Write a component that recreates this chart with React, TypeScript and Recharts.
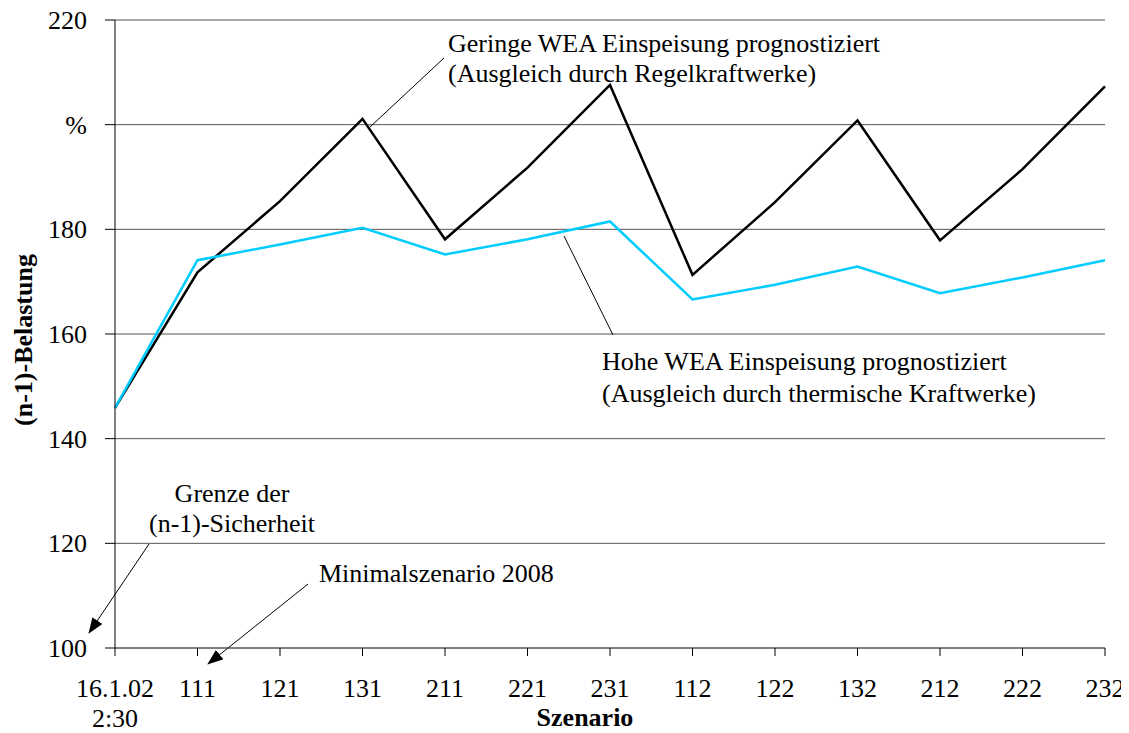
import { LineChart, Line, XAxis, YAxis, CartesianGrid, Customized } from 'recharts'

const scenarios = ['16.1.02\n2:30', '111', '121', '131', '211', '221', '231', '112', '122', '132', '212', '222', '232']
const geringe = [145.9, 171.8, 185.4, 201.1, 178.1, 191.8, 207.6, 171.3, 185.2, 200.8, 177.9, 191.5, 207.3]
const hohe = [145.9, 174.1, 177.1, 180.3, 175.2, 178.1, 181.5, 166.6, 169.4, 172.9, 167.8, 170.8, 174.1]
const yTicks = [100, 120, 140, 160, 180, 200, 220]

const FONT = 'Liberation Serif'
const FS = 26

const data = scenarios.map((s, i) => ({ s, geringe: geringe[i], hohe: hohe[i] }))

function XTick(props: any) {
  const { x, y, payload } = props
  const lines = String(payload.value).split('\n')
  return (
    <text x={x} y={y} textAnchor="middle" fontFamily={FONT} fontSize={FS} fill="#000">
      {lines.map((l, i) => (
        <tspan key={i} x={x} dy={i === 0 ? 39 : 30}>{l}</tspan>
      ))}
    </text>
  )
}

function YTick(props: any) {
  const { x, y, payload } = props
  const v = payload.value
  return (
    <text x={x} y={y} dy={9} textAnchor="end" fontFamily={FONT} fontSize={FS} fill="#000">
      {v === 200 ? '%' : String(v)}
    </text>
  )
}

// Beschriftungen und Pfeile (Pixelpositionen im Diagramm)
function Notes() {
  const txt = { fontFamily: FONT, fontSize: FS, fill: '#000' }
  return (
    <g>
      <defs>
        <marker id="arr" markerWidth="16" markerHeight="12" refX="15" refY="6" orient="auto" markerUnits="userSpaceOnUse">
          <path d="M0,0 L16,6 L0,12 Z" fill="#000" />
        </marker>
      </defs>
      <line x1={436} y1={50} x2={362} y2={119} stroke="#000" strokeWidth={1} />
      <line x1={556} y1={228} x2={605} y2={327} stroke="#000" strokeWidth={1} />
      <line x1={141} y1={536} x2={81} y2={625} stroke="#000" strokeWidth={1} markerEnd="url(#arr)" />
      <line x1={300} y1={576} x2={200} y2={656} stroke="#000" strokeWidth={1} markerEnd="url(#arr)" />
      <text {...txt} x={440} y={44}>Geringe WEA Einspeisung prognostiziert</text>
      <text {...txt} x={440} y={74}>(Ausgleich durch Regelkraftwerke)</text>
      <text {...txt} x={594} y={362}>Hohe WEA Einspeisung prognostiziert</text>
      <text {...txt} x={594} y={394}>(Ausgleich durch thermische Kraftwerke)</text>
      <text {...txt} x={224} y={494} textAnchor="middle">Grenze der</text>
      <text {...txt} x={224} y={524} textAnchor="middle">(n-1)-Sicherheit</text>
      <text {...txt} x={311} y={574}>Minimalszenario 2008</text>
      <text {...txt} fontWeight="bold" x={577} y={718} textAnchor="middle">Szenario</text>
      <text {...txt} fontWeight="bold" x={15} y={332} transform="rotate(-90 15 332)" textAnchor="middle" dominantBaseline="central">(n-1)-Belastung</text>
    </g>
  )
}

export default function App() {
  return (
    <div style={{ width: 1121, height: 725, background: '#fff' }}>
      <LineChart width={1121} height={725} data={data} margin={{ top: 12, right: 24, left: 0, bottom: 0 }}>
        <CartesianGrid vertical={false} stroke="#555" strokeWidth={1} />
        <XAxis
          dataKey="s"
          height={85}
          padding={{ left: 0, right: 0 }}
          interval={0}
          tickSize={8}
          tick={<XTick />}
          axisLine={{ stroke: '#555' }}
          tickLine={{ stroke: '#000' }}
        />
        <YAxis
          width={107}
          domain={[100, 220]}
          ticks={yTicks}
          interval={0}
          tickSize={10}
          tickMargin={18}
          tick={<YTick />}
          axisLine={{ stroke: '#000' }}
          tickLine={{ stroke: '#000' }}
        />
        <Line dataKey="geringe" stroke="#000" strokeWidth={2.5} dot={false} isAnimationActive={false} />
        <Line dataKey="hohe" stroke="#00CCFF" strokeWidth={2.5} dot={false} isAnimationActive={false} />
        <Customized component={Notes} />
      </LineChart>
    </div>
  )
}
